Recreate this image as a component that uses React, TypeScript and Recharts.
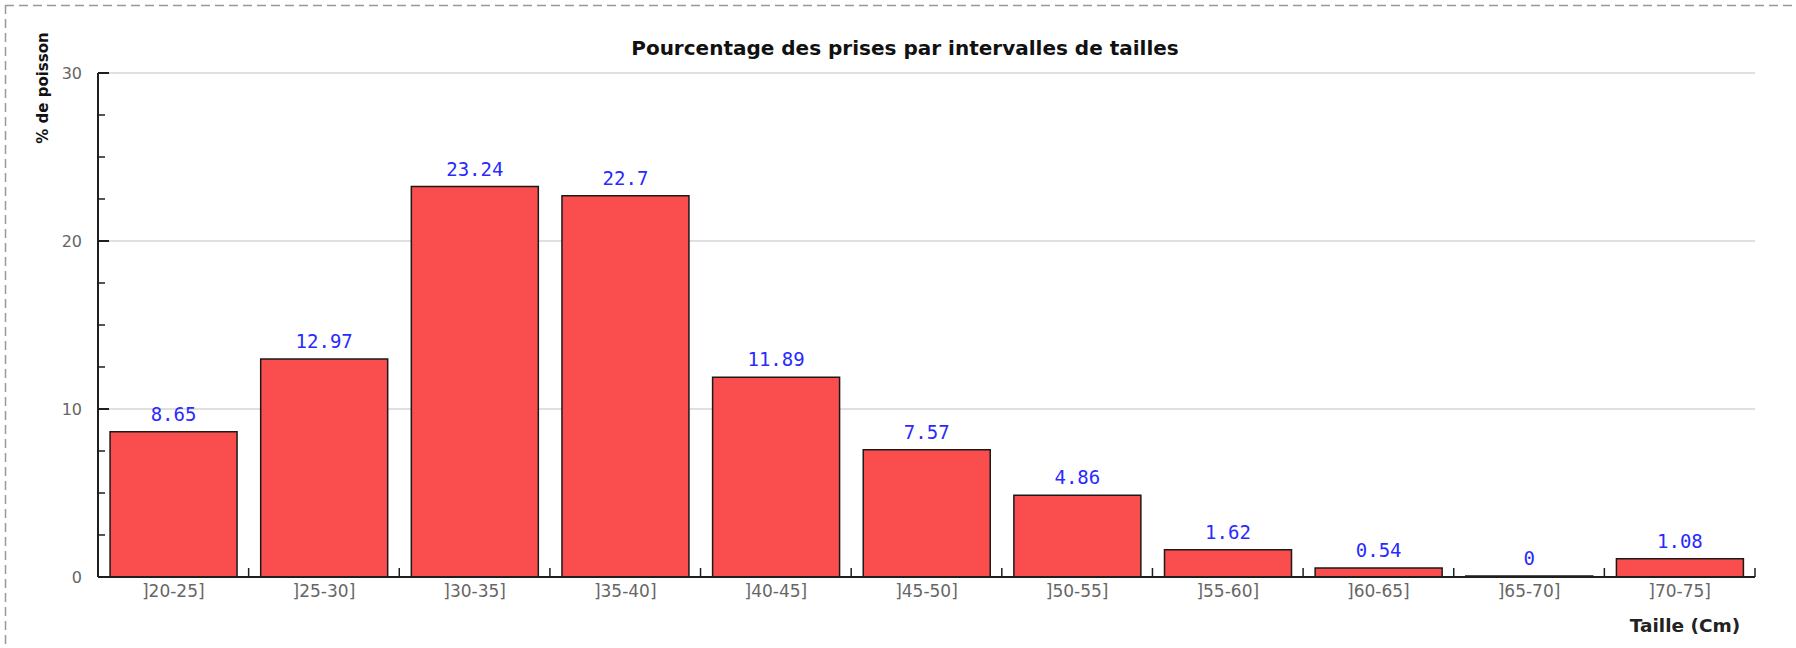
import React from "react";
import {
  BarChart,
  Bar,
  XAxis,
  YAxis,
  CartesianGrid,
  LabelList,
} from "recharts";

const categories = [
  "]20-25]",
  "]25-30]",
  "]30-35]",
  "]35-40]",
  "]40-45]",
  "]45-50]",
  "]50-55]",
  "]55-60]",
  "]60-65]",
  "]65-70]",
  "]70-75]",
];
const percentages = [8.65, 12.97, 23.24, 22.7, 11.89, 7.57, 4.86, 1.62, 0.54, 0, 1.08];
const yDomain = [0, 30];
const yMajorTicks = [0, 10, 20, 30];
const yAllTicks = [0, 2.5, 5, 7.5, 10, 12.5, 15, 17.5, 20, 22.5, 25, 27.5, 30];
const gridValues = [10, 20, 30];

const TITLE = "Pourcentage des prises par intervalles de tailles";
const Y_LABEL = "% de poisson";
const X_LABEL = "Taille (Cm)";

const data = categories.map((c, i) => ({ cat: c, value: percentages[i] }));

const W = 1796;
const H = 648;
const MINOR = 7;
const MAJOR = 11;
const Y_MARGIN = 23;
const X_MARGIN = 8;
const X_TICK = 9;
const AXIS = "#1e1e1e";

const YTick = (props: any) => {
  const { x, y, payload } = props;
  const v = payload.value;
  const isMajor = yMajorTicks.includes(v);
  if (!isMajor) return <g />;
  const axisX = x - MINOR + Y_MARGIN;
  return (
    <g>
      <line x1={axisX} x2={axisX + MAJOR} y1={y} y2={y} stroke={AXIS} strokeWidth={2} />
      <text
        x={x}
        y={y}
        textAnchor="end"
        dominantBaseline="central"
        fill="#666"
        fontSize={16}
        fontFamily="DejaVu Sans"
      >
        {v}
      </text>
    </g>
  );
};

const XTick = (props: any) => {
  const { x, y, payload, width, visibleTicksCount } = props;
  const half =
    typeof payload.offset === "number" && payload.offset > 0
      ? payload.offset
      : width / (2 * (visibleTicksCount || categories.length));
  const axisY = y - X_MARGIN;
  return (
    <g>
      <line
        x1={x + half}
        x2={x + half}
        y1={axisY}
        y2={axisY - X_TICK}
        stroke={AXIS}
        strokeWidth={1.5}
      />
      <text
        x={x}
        y={y}
        dy="0.71em"
        textAnchor="middle"
        fill="#666"
        fontSize={17}
        fontFamily="DejaVu Sans"
      >
        {payload.value}
      </text>
    </g>
  );
};

const gridGen = (args: any) => {
  const { yAxis, offset } = args;
  if (yAxis && typeof yAxis.scale === "function") {
    return gridValues.map((v) => yAxis.scale(v));
  }
  const top = offset.top;
  const h = offset.height;
  return gridValues.map(
    (v) => top + h * (1 - (v - yDomain[0]) / (yDomain[1] - yDomain[0]))
  );
};

export default function App() {
  return (
    <div style={{ position: "fixed", left: 0, top: 0, width: W, height: H, background: "#fff" }}>
      <BarChart
        width={W}
        height={H}
        data={data}
        margin={{ top: 73, right: 41, bottom: 41, left: 38 }}
        barCategoryGap="8%"
      >
        <CartesianGrid
          xAxisId="cat"
          yAxisId="main"
          vertical={false}
          stroke="#d6d6d6"
          strokeWidth={1.5}
          horizontalCoordinatesGenerator={gridGen}
        />
        <XAxis
          xAxisId="cat"
          dataKey="cat"
          height={30}
          interval={0}
          axisLine={{ stroke: AXIS, strokeWidth: 2 }}
          tickLine={false}
          tickSize={0}
          tickMargin={X_MARGIN}
          tick={<XTick />}
        />
        <YAxis
          yAxisId="main"
          width={60}
          domain={yDomain}
          ticks={yAllTicks}
          interval={0}
          tickSize={-MINOR}
          tickMargin={Y_MARGIN}
          axisLine={{ stroke: AXIS, strokeWidth: 2 }}
          tickLine={{ stroke: AXIS, strokeWidth: 1.5 }}
          tick={<YTick />}
        />
        <Bar
          xAxisId="cat"
          yAxisId="main"
          dataKey="value"
          fill="#fa4d4d"
          stroke="#1a1a1a"
          strokeWidth={1.5}
          minPointSize={1}
          isAnimationActive={false}
        >
          <LabelList
            dataKey="value"
            position="top"
            offset={11}
            fill="#2a2aff"
            fontSize={19}
            fontFamily="DejaVu Sans Mono"
          />
        </Bar>
      </BarChart>
      <svg
        width={W}
        height={H}
        style={{ position: "absolute", left: 0, top: 0, pointerEvents: "none" }}
      >
        <line x1={5} y1={5.5} x2={W} y2={5.5} stroke="#999" strokeWidth={1.5} strokeDasharray="9 5" />
        <line x1={5.5} y1={5} x2={5.5} y2={H} stroke="#999" strokeWidth={1.5} strokeDasharray="9 5" />
        <text
          x={905}
          y={55}
          textAnchor="middle"
          fontFamily="DejaVu Sans"
          fontWeight="bold"
          fontSize={20}
          fill="#111"
        >
          {TITLE}
        </text>
        <text
          x={43}
          y={88}
          transform="rotate(-90 43 88)"
          textAnchor="middle"
          dominantBaseline="central"
          fontFamily="DejaVu Sans"
          fontWeight="bold"
          fontSize={15}
          fill="#111"
        >
          {Y_LABEL}
        </text>
        <text
          x={1685}
          y={632}
          textAnchor="middle"
          fontFamily="DejaVu Sans"
          fontWeight="bold"
          fontSize={18.5}
          fill="#222"
        >
          {X_LABEL}
        </text>
      </svg>
    </div>
  );
}
